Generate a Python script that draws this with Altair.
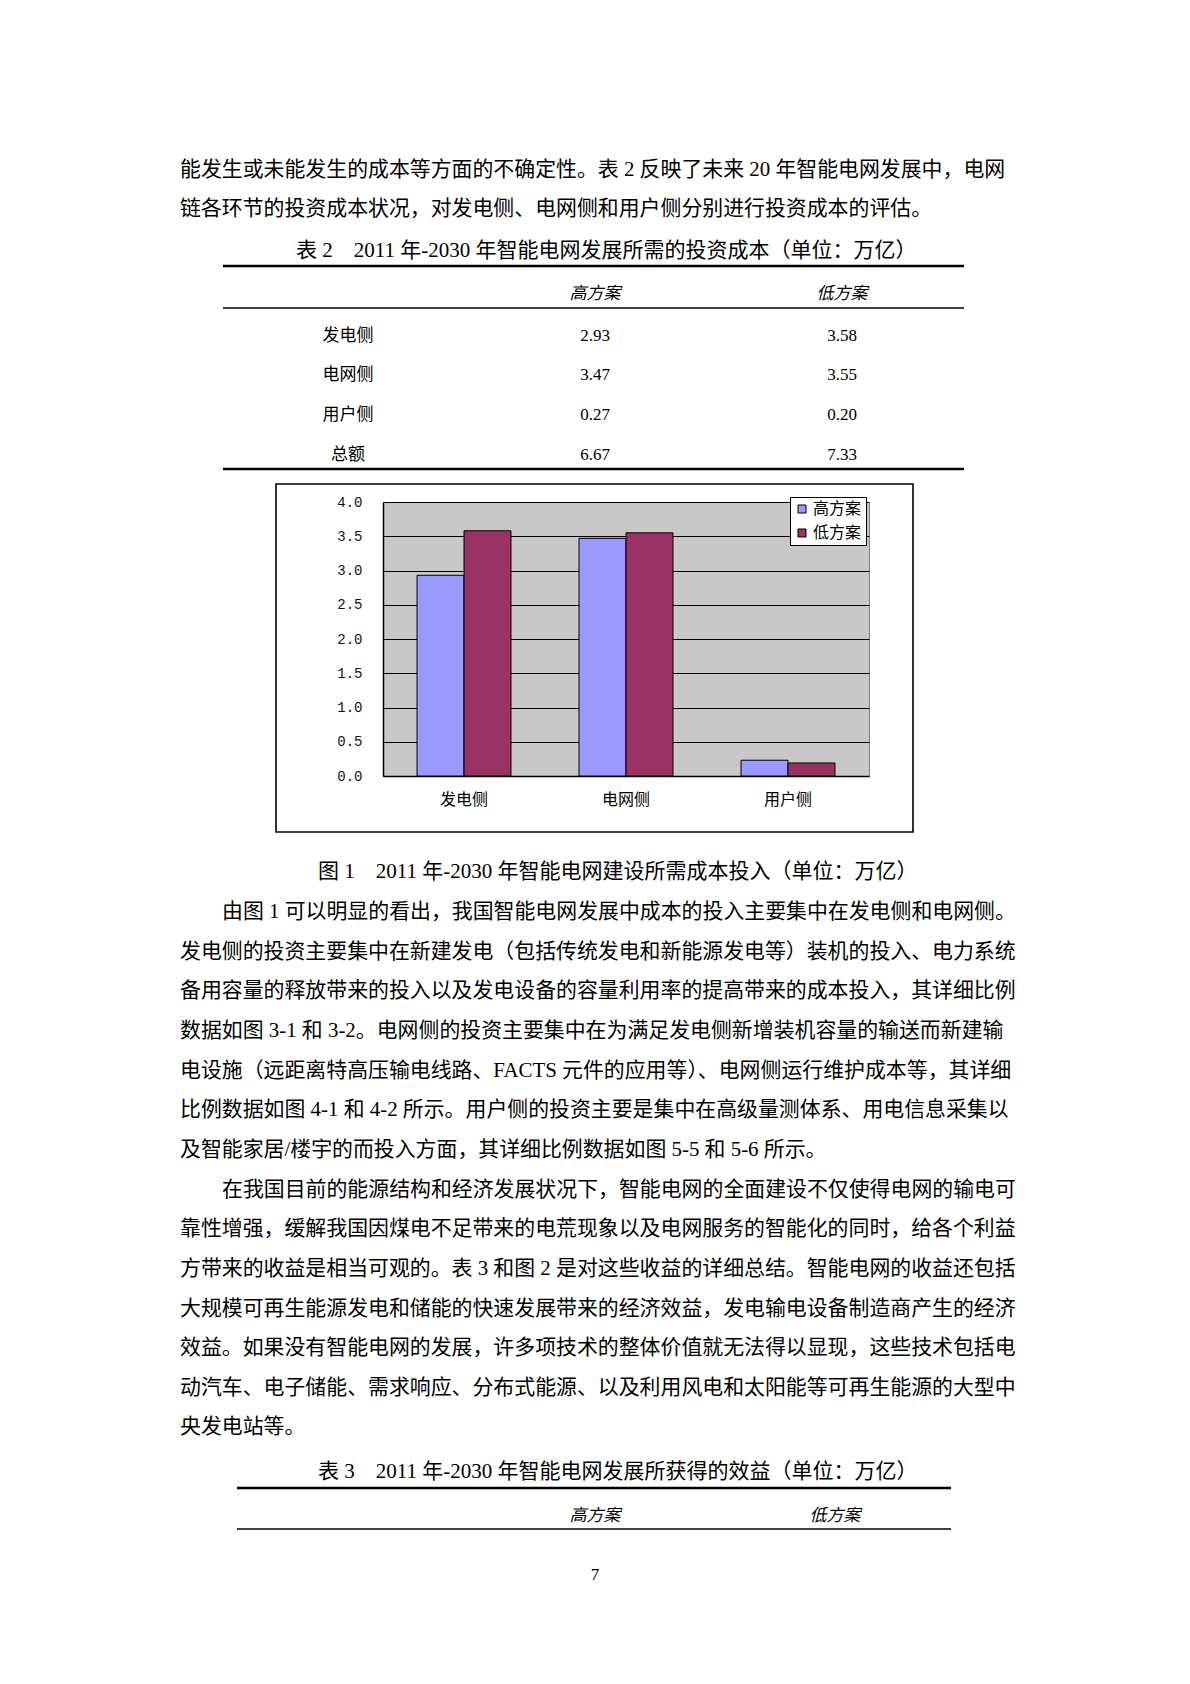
import altair as alt
import pandas as pd

# ---------------- chart data ----------------
categories = ["发电侧", "电网侧", "用户侧"]
series = ["高方案", "低方案"]
high_values = [2.93, 3.47, 0.23]
low_values = [3.58, 3.55, 0.19]
y_ticks = [0.0, 0.5, 1.0, 1.5, 2.0, 2.5, 3.0, 3.5, 4.0]
colors = ["#9999FF", "#993366"]

# table 2 values (as printed)
table_rows = ["发电侧", "电网侧", "用户侧", "总额"]
table_high = ["2.93", "3.47", "0.27", "6.67"]
table_low = ["3.58", "3.55", "0.20", "7.33"]

# ---------------- document text ----------------
para_top = [
    "能发生或未能发生的成本等方面的不确定性。表 2 反映了未来 20 年智能电网发展中，电网",
    "链各环节的投资成本状况，对发电侧、电网侧和用户侧分别进行投资成本的评估。",
]
table2_title = "表 2\u30002011 年-2030 年智能电网发展所需的投资成本（单位：万亿）"
fig_caption = "图 1\u30002011 年-2030 年智能电网建设所需成本投入（单位：万亿）"
para_body = [
    "由图 1 可以明显的看出，我国智能电网发展中成本的投入主要集中在发电侧和电网侧。",
    "发电侧的投资主要集中在新建发电（包括传统发电和新能源发电等）装机的投入、电力系统",
    "备用容量的释放带来的投入以及发电设备的容量利用率的提高带来的成本投入，其详细比例",
    "数据如图 3-1 和 3-2。电网侧的投资主要集中在为满足发电侧新增装机容量的输送而新建输",
    "电设施（远距离特高压输电线路、FACTS 元件的应用等）、电网侧运行维护成本等，其详细",
    "比例数据如图 4-1 和 4-2 所示。用户侧的投资主要是集中在高级量测体系、用电信息采集以",
    "及智能家居/楼宇的而投入方面，其详细比例数据如图 5-5 和 5-6 所示。",
    "在我国目前的能源结构和经济发展状况下，智能电网的全面建设不仅使得电网的输电可",
    "靠性增强，缓解我国因煤电不足带来的电荒现象以及电网服务的智能化的同时，给各个利益",
    "方带来的收益是相当可观的。表 3 和图 2 是对这些收益的详细总结。智能电网的收益还包括",
    "大规模可再生能源发电和储能的快速发展带来的经济效益，发电输电设备制造商产生的经济",
    "效益。如果没有智能电网的发展，许多项技术的整体价值就无法得以显现，这些技术包括电",
    "动汽车、电子储能、需求响应、分布式能源、以及利用风电和太阳能等可再生能源的大型中",
    "央发电站等。",
]
indented = [0, 7]
table3_title = "表 3\u30002011 年-2030 年智能电网发展所获得的效益（单位：万亿）"
page_number = "7"

# ---------------- layout (page pixels) ----------------
X0, Y0 = 383, 502          # plot-area origin on the page
W, H = 486, 274            # plot-area size
PAGE_W, PAGE_H = 1190, 1684


def px(x):
    return x - X0


def py(y):
    return y - Y0


BODY_FONT = "Liberation Serif, Noto Sans CJK SC"
CJK_FONT = "Noto Sans CJK SC"
LEFT = 180
INDENT = 222
LINE_H = 39.65

# ---------------- bars ----------------
rows = []
for c, h, l in zip(categories, high_values, low_values):
    rows.append({"类别": c, "方案": series[0], "值": h})
    rows.append({"类别": c, "方案": series[1], "值": l})
bar_df = pd.DataFrame(rows)

bars = alt.Chart(bar_df).mark_bar(stroke="black", strokeWidth=1).encode(
    x=alt.X(
        "类别:N",
        sort=categories,
        scale=alt.Scale(paddingInner=0.42, paddingOuter=0.21),
        axis=alt.Axis(
            title=None, labelAngle=0, labelFont=CJK_FONT, labelFontSize=16,
            labelColor="black", labelPadding=15, ticks=False, tickSize=0,
            domainColor="black", domainWidth=1.5, grid=False,
        ),
    ),
    xOffset=alt.XOffset("方案:N", sort=series,
                        scale=alt.Scale(paddingInner=0, paddingOuter=0)),
    y=alt.Y(
        "值:Q",
        scale=alt.Scale(domain=[0, 4], nice=False),
        axis=alt.Axis(
            title=None, values=y_ticks, format=".1f", labelFont="Liberation Mono",
            labelFontSize=14, labelColor="#111", ticks=False, tickSize=0,
            labelPadding=21, grid=True, gridColor="black", gridWidth=1,
            gridOpacity=1, domainColor="black", domainWidth=1.5,
        ),
    ),
    color=alt.Color(
        "方案:N",
        sort=series,
        scale=alt.Scale(domain=series, range=colors),
        legend=alt.Legend(
            title=None, orient="none", legendX=407, legendY=-5,
            fillColor="white", strokeColor="black", padding=4,
            symbolType="square", symbolSize=64, symbolStrokeColor="black",
            symbolStrokeWidth=1, labelFont=CJK_FONT, labelFontSize=16,
            labelColor="black", rowPadding=8, labelOffset=3,
        ),
    ),
)

# ---------------- frame around the figure ----------------
frame = alt.Chart(pd.DataFrame({"a": [0]})).mark_rect(
    filled=False, stroke="black", strokeWidth=1.6
).encode(
    x=alt.value(px(276)), x2=alt.value(px(913)),
    y=alt.value(py(484)), y2=alt.value(py(832)),
)

# ---------------- document text ----------------
body_rows = []
for i, t in enumerate(para_top):
    body_rows.append({"t": t, "x": px(LEFT), "y": py(170 + i * 39)})
for i, t in enumerate(para_body):
    body_rows.append({"t": t, "x": px(INDENT if i in indented else LEFT),
                      "y": py(912 + i * LINE_H)})
body_df = pd.DataFrame(body_rows)

body = alt.Chart(body_df).mark_text(
    align="left", baseline="middle", font=BODY_FONT, fontSize=20.9, color="black"
).encode(
    x=alt.X("x:Q", scale=None, axis=None),
    y=alt.Y("y:Q", scale=None, axis=None),
    text="t:N",
)

cap_df = pd.DataFrame([
    {"t": table2_title, "x": px(296), "y": py(251)},
    {"t": fig_caption, "x": px(318), "y": py(872)},
    {"t": table3_title, "x": px(318), "y": py(1472)},
])
caps = alt.Chart(cap_df).mark_text(
    align="left", baseline="middle", font=BODY_FONT, fontSize=21, color="black"
).encode(
    x=alt.X("x:Q", scale=None, axis=None),
    y=alt.Y("y:Q", scale=None, axis=None),
    text="t:N",
)

cell_rows = []
row_ys = [336, 375, 415, 455]
for lab, h, l, yy in zip(table_rows, table_high, table_low, row_ys):
    cell_rows.append({"t": lab, "x": px(348), "y": py(yy)})
    cell_rows.append({"t": h, "x": px(595), "y": py(yy)})
    cell_rows.append({"t": l, "x": px(842), "y": py(yy)})
cell_rows.append({"t": page_number, "x": px(595), "y": py(1575)})
cell_df = pd.DataFrame(cell_rows)

cells = alt.Chart(cell_df).mark_text(
    align="center", baseline="middle", font=BODY_FONT, fontSize=17, color="black"
).encode(
    x=alt.X("x:Q", scale=None, axis=None),
    y=alt.Y("y:Q", scale=None, axis=None),
    text="t:N",
)

head_df = pd.DataFrame([
    {"t": series[0], "x": px(595), "y": py(294)},
    {"t": series[1], "x": px(842), "y": py(294)},
    {"t": series[0], "x": px(595), "y": py(1516)},
    {"t": series[1], "x": px(835), "y": py(1516)},
])
heads = alt.Chart(head_df).mark_text(
    align="center", baseline="middle", font=BODY_FONT, fontSize=17,
    fontStyle="italic", color="black"
).encode(
    x=alt.X("x:Q", scale=None, axis=None),
    y=alt.Y("y:Q", scale=None, axis=None),
    text="t:N",
)

rule_df = pd.DataFrame([
    {"x": px(223), "x2": px(964), "y": py(266), "w": 2.6},
    {"x": px(223), "x2": px(964), "y": py(308), "w": 1.3},
    {"x": px(223), "x2": px(964), "y": py(469), "w": 2.6},
    {"x": px(237), "x2": px(951), "y": py(1488), "w": 2.6},
    {"x": px(237), "x2": px(951), "y": py(1529), "w": 1.3},
])
rules = alt.Chart(rule_df).mark_rule(color="black").encode(
    x=alt.X("x:Q", scale=None, axis=None),
    x2="x2:Q",
    y=alt.Y("y:Q", scale=None, axis=None),
    strokeWidth=alt.StrokeWidth("w:Q", scale=None, legend=None),
)

chart = alt.layer(frame, bars, rules, body, caps, cells, heads).properties(
    width=W,
    height=H,
    autosize=alt.AutoSizeParams(type="none"),
    padding={"left": X0 - 8, "top": Y0 - 8,
             "right": PAGE_W - 16 - (X0 - 8) - W,
             "bottom": PAGE_H - 24 - (Y0 - 8) - H},
    background="white",
).configure_view(
    fill="#C8C8C8", stroke="#808080", strokeWidth=1
)

chart.save("out.html", embed_options={"renderer": "svg", "actions": False})
